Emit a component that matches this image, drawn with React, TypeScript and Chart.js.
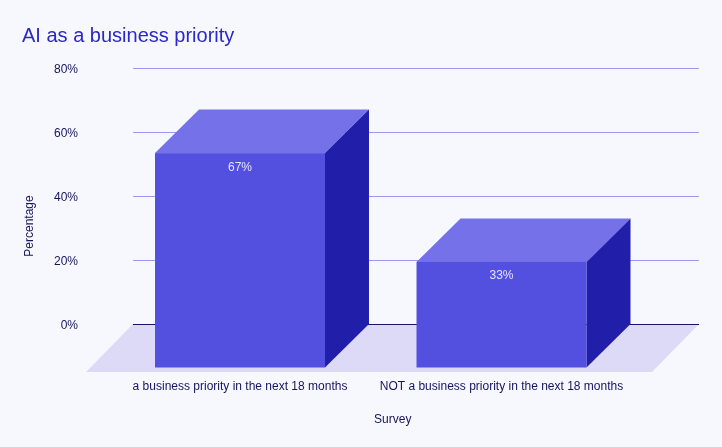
import React, { useEffect, useRef } from "react";
import { Chart, registerables } from "chart.js";

Chart.register(...registerables);

const categories = [
  "a business priority in the next 18 months",
  "NOT a business priority in the next 18 months",
];
const percentages = [67, 33];
const yTickValues = [0, 20, 40, 60, 80];
const chartTitle = "AI as a business priority";
const xAxisTitle = "Survey";
const yAxisTitle = "Percentage";

const FONT = "'Liberation Sans', Arial, Helvetica, sans-serif";
const BG = "#f7f8fd";
const TITLE_COLOR = "#2b28c8";
const TEXT_COLOR = "#16145e";
const GRID_COLOR = "#9c9af0";
const ZERO_COLOR = "#17156a";
const FLOOR_COLOR = "#dcdaf7";
const TOP_COLOR = "#7572e9";
const FRONT_COLOR = "#5350e0";
const SIDE_COLOR = "#211eaa";

// 3D geometry (pixels)
const BAR_DX = 22; // half horizontal depth of bar
const BAR_DY = 43.5; // total vertical depth of bar
const FLOOR_L = 1.75;
const FLOOR_R = 44.75;
const FLOOR_DX = 47;
const FLOOR_DY = 48;

const bar3d = {
  id: "bar3d",
  beforeDatasetsDraw(chart: any) {
    const { ctx, chartArea, scales } = chart;
    const y = scales.y;
    const y0 = y.getPixelForValue(0);
    const backL = chartArea.left + FLOOR_L;
    const backR = chartArea.right + FLOOR_R;
    ctx.save();
    // floor
    ctx.fillStyle = FLOOR_COLOR;
    ctx.beginPath();
    ctx.moveTo(backL, y0);
    ctx.lineTo(backR, y0);
    ctx.lineTo(backR - FLOOR_DX, y0 + FLOOR_DY);
    ctx.lineTo(backL - FLOOR_DX, y0 + FLOOR_DY);
    ctx.closePath();
    ctx.fill();
    // grid lines on back wall
    y.ticks.forEach((t: any) => {
      const py = Math.round(y.getPixelForValue(t.value)) + 0.5;
      ctx.strokeStyle = t.value === 0 ? ZERO_COLOR : GRID_COLOR;
      ctx.lineWidth = 1;
      ctx.beginPath();
      ctx.moveTo(backL, py);
      ctx.lineTo(backR, py);
      ctx.stroke();
    });
    // bars
    const meta = chart.getDatasetMeta(0);
    meta.data.forEach((el: any) => {
      const { x, y: top, base, width } = el.getProps(["x", "y", "base", "width"], true);
      const l = x - width / 2;
      const r = x + width / 2;
      const bl = l + BAR_DX, br = r + BAR_DX;
      const fl = l - BAR_DX, fr = r - BAR_DX;
      const ft = top + BAR_DY, fb = base + BAR_DY;
      // top face
      ctx.fillStyle = TOP_COLOR;
      ctx.beginPath();
      ctx.moveTo(bl, top);
      ctx.lineTo(br, top);
      ctx.lineTo(fr, ft);
      ctx.lineTo(fl, ft);
      ctx.closePath();
      ctx.fill();
      // side face
      ctx.fillStyle = SIDE_COLOR;
      ctx.beginPath();
      ctx.moveTo(br, top);
      ctx.lineTo(br, base);
      ctx.lineTo(fr, fb);
      ctx.lineTo(fr, ft);
      ctx.closePath();
      ctx.fill();
      // front face
      ctx.fillStyle = FRONT_COLOR;
      ctx.fillRect(fl, ft, fr - fl, fb - ft);
    });
    ctx.restore();
  },
  afterDatasetsDraw(chart: any) {
    const { ctx } = chart;
    const meta = chart.getDatasetMeta(0);
    ctx.save();
    ctx.font = `12px ${FONT}`;
    ctx.fillStyle = "rgba(255,255,255,0.85)";
    ctx.textAlign = "center";
    ctx.textBaseline = "middle";
    meta.data.forEach((el: any, i: number) => {
      const { x, y: top } = el.getProps(["x", "y"], true);
      ctx.fillText(`${percentages[i]}%`, x - BAR_DX, top + BAR_DY + 14.2);
    });
    ctx.restore();
  },
  afterDraw(chart: any) {
    const { ctx, chartArea } = chart;
    ctx.save();
    ctx.font = `12px ${FONT}`;
    ctx.fillStyle = TEXT_COLOR;
    ctx.textAlign = "center";
    ctx.textBaseline = "middle";
    ctx.fillText(xAxisTitle, (chartArea.left + chartArea.right) / 2, 419.2);
    ctx.translate(29.3, 226);
    ctx.rotate(-Math.PI / 2);
    ctx.fillText(yAxisTitle, 0, 0);
    ctx.restore();
  },
};

export default function App() {
  const ref = useRef<HTMLCanvasElement | null>(null);
  useEffect(() => {
    if (!ref.current) return;
    Chart.defaults.font.family = FONT;
    const chart = new Chart(ref.current, {
      type: "bar",
      data: {
        labels: categories,
        datasets: [
          {
            label: "Percentage",
            data: percentages,
            backgroundColor: "rgba(0,0,0,0)",
            borderWidth: 0,
            categoryPercentage: 1,
            barPercentage: 0.65,
          },
        ],
      },
      options: {
        animation: false,
        responsive: true,
        maintainAspectRatio: false,
        layout: { padding: { left: 22, right: 67.75, top: 0, bottom: 0 } },
        plugins: {
          legend: { display: false },
          tooltip: { enabled: false },
          title: {
            display: true,
            text: chartTitle,
            align: "start",
            color: TITLE_COLOR,
            font: { size: 20, weight: "normal", family: FONT },
            padding: { top: 24, bottom: 20 },
          },
        },
        scales: {
          x: {
            type: "category",
            offset: true,
            grid: { display: false, drawTicks: false },
            border: { display: false },
            ticks: {
              color: TEXT_COLOR,
              font: { size: 12, family: FONT },
              padding: 55.5,
              labelOffset: -BAR_DX,
              maxRotation: 0,
              autoSkip: false,
            },
            afterFit: (s: any) => {
              s.height = 123;
            },
          },
          y: {
            type: "linear",
            min: 0,
            max: 80,
            grid: { display: false, drawTicks: false },
            border: { display: false },
            ticks: {
              color: TEXT_COLOR,
              font: { size: 12, family: FONT },
              padding: 53.25,
              labelOffset: 1.5,
              callback: (v: any) => `${v}%`,
            },
            afterBuildTicks: (s: any) => {
              s.ticks = yTickValues.map((v) => ({ value: v }));
            },
            afterFit: (s: any) => {
              s.width = 109.25;
            },
          },
        },
      },
      plugins: [bar3d],
    } as any);
    return () => chart.destroy();
  }, []);
  return (
    <div
      style={{
        position: "absolute",
        left: 0,
        top: 0,
        width: 722,
        height: 447,
        background: BG,
      }}
    >
      <canvas ref={ref} />
    </div>
  );
}
